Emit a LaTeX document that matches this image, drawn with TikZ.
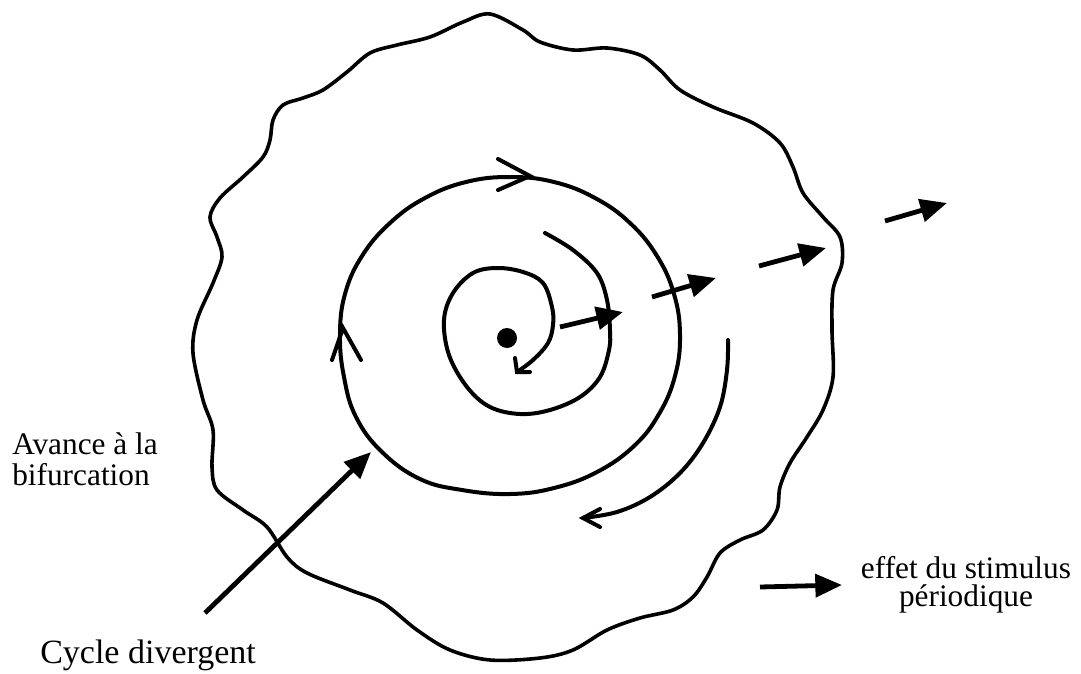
\documentclass[tikz,border=0pt]{standalone}
\usepackage{fontspec}
\setmainfont{Liberation Serif}
\usetikzlibrary{arrows.meta}

\begin{document}
\begin{tikzpicture}[
  x=0.75pt, y=-0.75pt,
  curve/.style={line width=3pt,line cap=round,line join=round},
  wave/.style={line width=2.7pt,line join=round},
  barb/.style={line width=3pt,line cap=round,line join=miter},
  kick/.style={-{Triangle[length=20pt,width=17pt]},line width=3.6pt},
  lbl/.style={font=\fontsize{23.5}{23}\selectfont,inner sep=0pt},
]
\useasboundingbox (0,0) rectangle (1081,674);

% the wavy boundary of the attraction basin
\draw[wave] plot[smooth cycle,tension=0.55] coordinates {
  (490,14) (523,30) (540,42) (573,50) (607,48) (640,55) (660,70) (680,90)
  (713,107) (753,123) (780,143) (793,167) (803,193) (823,217) (840,237)
  (842,263) (833,290) (832,330) (833,377) (823,410) (807,437) (790,463)
  (780,487) (777,510) (763,530) (740,540) (720,553) (707,577) (693,597)
  (673,610) (640,618) (607,630) (573,650) (540,658) (490,660) (450,650)
  (417,630) (383,603) (350,590) (307,573) (287,557) (267,527) (243,510)
  (217,490) (212,467) (213,430) (203,400) (193,353) (197,320) (213,283)
  (222,257) (217,237) (210,217) (220,198) (243,177) (263,157) (270,140)
  (273,120) (283,105) (303,98) (323,90) (347,72) (370,53) (397,45)
  (430,37) (463,22)};

% the limit cycle
\draw[curve] plot[smooth cycle,tension=0.7] coordinates {
  (680,335) (675,376) (659,414) (634,446) (597,472) (554,488) (510,494)
  (462,490) (420,479) (382,452) (356,417) (344,377) (340,335) (345,294)
  (362,256) (390,223) (425,198) (466,182) (510,177) (554,182) (595,198)
  (630,223) (657,256) (674,294)};
\draw[barb] (498,159) -- (530,176) -- (498,190);
\draw[barb] (332,360) -- (343,328) -- (361,360);

% the focus and the inward spiral
\node[circle,fill,inner sep=0pt,minimum size=15pt] (focus) at (507,338) {};
\draw[curve] plot[smooth,tension=0.6] coordinates {
  (545,233) (573,250) (597,273) (607,300) (610,330) (609,350) (600,377)
  (580,397) (550,410) (520,414) (490,407) (467,387) (449,355) (444,320)
  (453,293) (473,273) (497,268) (523,272) (543,283) (552,307) (553,325)
  (548,343) (533,360) (517,372)};
\draw[barb] (515,358) -- (517,372) -- (530,372);

% the outer arc, running back
\draw[curve] plot[smooth,tension=0.6] coordinates {
  (728,340) (727,370) (720,407) (703,443) (680,473) (650,497) (617,512)
  (583,518)};
\draw[barb] (600,509) -- (583,518) -- (600,527);

% the periodic stimulus, pushing outwards
\foreach \xa/\ya/\xb/\yb in {560/327/623/312, 652/297/716/278,
                             759/266/826/248, 885/221/947/203}
  \draw[kick] (\xa,\ya) -- (\xb,\yb);

% labels
\node[lbl,anchor=base west,align=left] (avance) at (12,485)
     {Avance à la\\bifurcation};
\node[lbl,anchor=base west,font=\fontsize{25.5}{25}\selectfont] (cycle)
     at (40,663) {Cycle divergent};
\coordinate (cyctail) at (205,613);
\coordinate (cyctip)  at (371,452);
\draw[kick] (cyctail) -- (cyctip);

\coordinate (keytail) at (760,587);
\coordinate (keytip)  at (842,585);
\draw[kick] (keytail) -- (keytip);
\node[lbl,anchor=base,align=center,
      font=\fontsize{23.5}{21}\selectfont] (effet) at (966,606)
     {effet du stimulus\\périodique};

\end{tikzpicture}
\end{document}
